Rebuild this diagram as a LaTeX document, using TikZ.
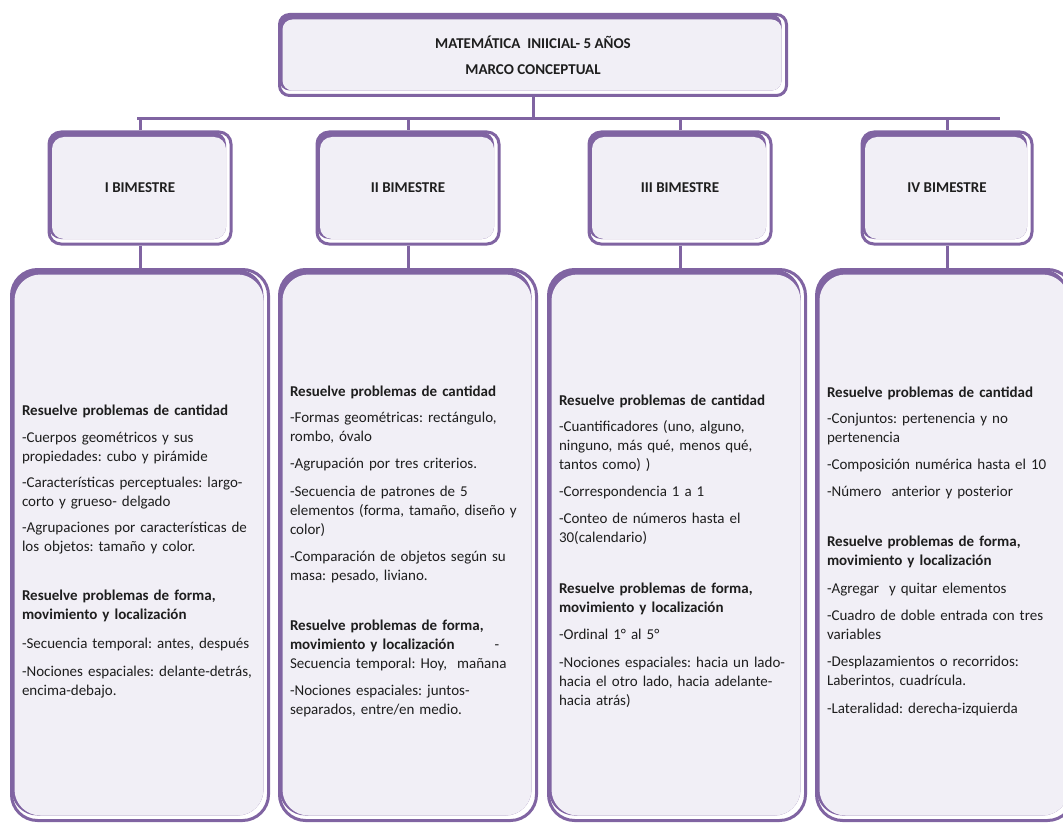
\documentclass[tikz,border=0pt]{standalone}
\usepackage{fontspec}
\setmainfont{Carlito}
\frenchspacing
\definecolor{purp}{HTML}{8064A2}
\definecolor{lav}{HTML}{F1EFF6}
\definecolor{ink}{HTML}{1E1E1E}
\newcommand{\toppad}{\rule{0pt}{24pt}}

\begin{document}
\begin{tikzpicture}[x=1pt,y=-1pt,
  card/.style={draw=purp, line width=3pt, fill=white, rounded corners=#1, text=ink,
    path picture={
      \fill[purp, rounded corners=#1] (path picture bounding box.north west) rectangle ([shift={(-5pt,5pt)}]path picture bounding box.south east);
      \fill[lav, rounded corners=#1] ([shift={(3pt,-5pt)}]path picture bounding box.north west) rectangle ([shift={(-5pt,5pt)}]path picture bounding box.south east);}},
  card/.default=12pt,
  title/.style={card=10pt, minimum width=507pt, minimum height=81pt, align=center, font=\fontsize{15}{19}\selectfont\bfseries},
  term/.style={card=12pt, minimum width=182pt, minimum height=112pt, font=\fontsize{15}{19}\selectfont\bfseries},
  plan/.style={card=26pt, minimum width=257pt, minimum height=551pt, text width=236pt, align=left, font=\fontsize{15}{19}\selectfont},
  link/.style={draw=purp, line width=3pt},
]
\useasboundingbox (0,0) rectangle (1063,824);

% top box
\node[title] (top) at (533,55) {MATEMÁTICA~ INIICIAL- 5 AÑOS\\[7pt] MARCO CONCEPTUAL};

% bimestres
\node[term] (t1) at (140,188) {I BIMESTRE};
\node[term] (t2) at (408,188) {II BIMESTRE};
\node[term] (t3) at (680,188) {III BIMESTRE};
\node[term, minimum width=170pt] (t4) at (947,188) {IV BIMESTRE};

% contenidos
\node[plan] (p1) at (140,545) {\toppad\textbf{Resuelve problemas de cantidad}\\[8pt]
-Cuerpos geométricos y sus\\
propiedades: cubo y pirámide\\[7pt]
-Características perceptuales: largo-\\
corto y grueso- delgado\\[7pt]
-Agrupaciones por características de\\
los objetos: tamaño y color.\\[30pt]
\textbf{Resuelve problemas de forma,}\\
\textbf{movimiento y localización}\\[10pt]
-Secuencia temporal: antes, después\\[9pt]
-Nociones espaciales: delante-detrás,\\
encima-debajo.};

\node[plan] (p2) at (408,545) {\toppad\textbf{Resuelve problemas de cantidad}\\[7pt]
-Formas geométricas: rectángulo,\\
rombo, óvalo\\[8pt]
-Agrupación por tres criterios.\\[9pt]
-Secuencia de patrones de 5\\
elementos (forma, tamaño, diseño y\\
color)\\[8pt]
-Comparación de objetos según su\\
masa: pesado, liviano.\\[31pt]
\textbf{Resuelve problemas de forma,}\\
\textbf{movimiento y localización}\hspace{40pt}-\\
Secuencia temporal: Hoy,~ mañana\\[8pt]
-Nociones espaciales: juntos-\\
separados, entre/en medio.};

\node[plan] (p3) at (677,545) {\toppad\textbf{Resuelve problemas de cantidad}\\[7pt]
-Cuantificadores (uno, alguno,\\
ninguno, más qué, menos qué,\\
tantos como) )\\[8pt]
-Correspondencia 1 a 1\\[8pt]
-Conteo de números hasta el\\
30(calendario)\\[32pt]
\textbf{Resuelve problemas de forma,}\\
\textbf{movimiento y localización}\\[8pt]
-Ordinal 1° al 5°\\[9pt]
-Nociones espaciales: hacia un lado-\\
hacia el otro lado, hacia adelante-\\
hacia atrás)};

\node[plan] (p4) at (945,545) {\toppad\textbf{Resuelve problemas de cantidad}\\[7pt]
-Conjuntos: pertenencia y no\\
pertenencia\\[8pt]
-Composición numérica hasta el 10\\[8pt]
-Número~ anterior y posterior\\[31pt]
\textbf{Resuelve problemas de forma,}\\
\textbf{movimiento y localización}\\[9pt]
-Agregar~ y quitar elementos\\[8pt]
-Cuadro de doble entrada con tres\\
variables\\[8pt]
-Desplazamientos o recorridos:\\
Laberintos, cuadrícula.\\[9pt]
-Lateralidad: derecha-izquierda};

% conectores
\coordinate (busL) at (137,119);
\coordinate (busR) at (1000,119);
\draw[link] (busL) -- (busR);
\draw[link] (top.south) -- (top.south |- busL);
\foreach \i in {1,...,4}{
  \draw[link] (t\i.north |- busL) -- (t\i.north);
  \draw[link] (t\i.south) -- (t\i.south |- p\i.north);
}
\end{tikzpicture}
\end{document}
